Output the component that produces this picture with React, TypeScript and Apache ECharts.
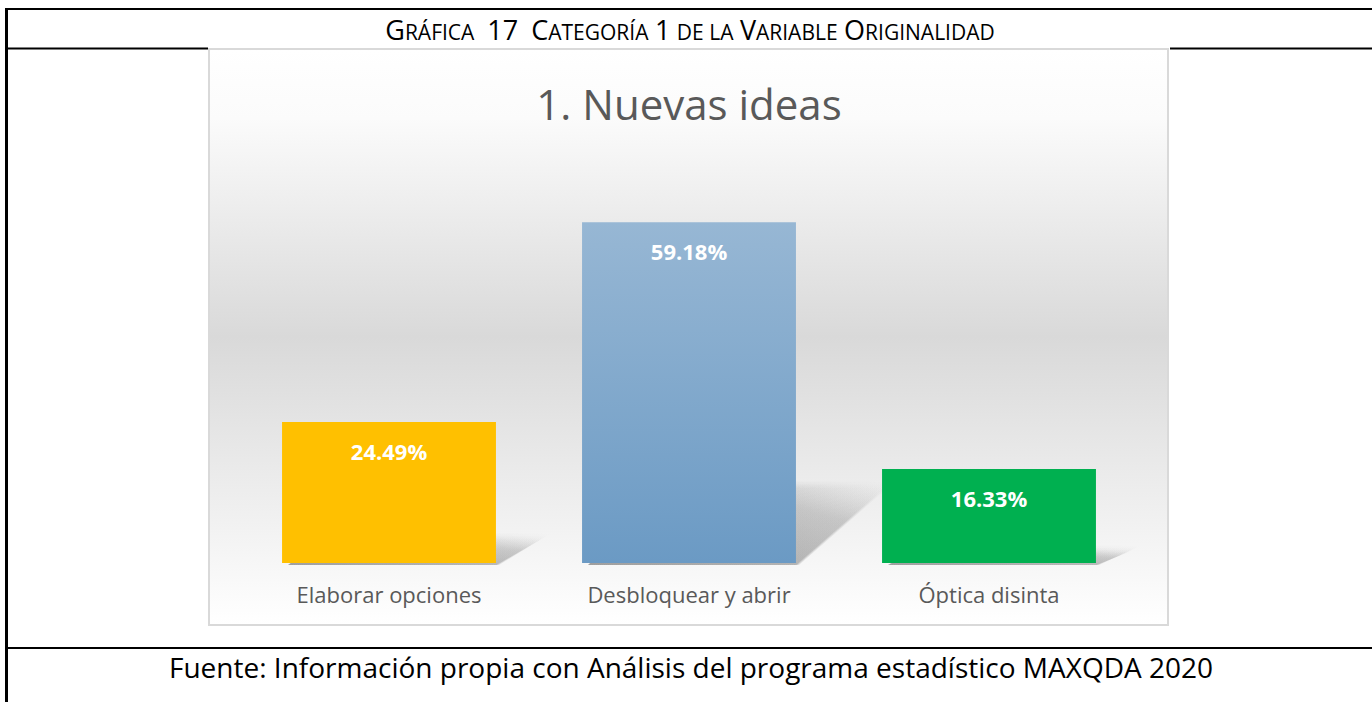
import React, { useEffect, useRef } from "react";
import * as echarts from "echarts";

const categories = ["Elaborar opciones", "Desbloquear y abrir", "Óptica disinta"];
const values = [24.49, 59.18, 16.33];
const valueLabels = ["24.49%", "59.18%", "16.33%"];
const chartTitle = "1. Nuevas ideas";
const headerText =
  "{b|G}{s|RÁFICA}  {b|17}  {b|C}{s|ATEGORÍA} {b|1} {s|DE LA} {b|V}{s|ARIABLE} {b|O}{s|RIGINALIDAD}";
const footerText = "Fuente: Información propia con Análisis del programa estadístico MAXQDA 2020";

const FONT = "'Open Sans', Lato, sans-serif";

const barColors = [
  "#FFC000",
  {
    type: "linear",
    x: 0, y: 0, x2: 0, y2: 1,
    colorStops: [
      { offset: 0, color: "#97B7D4" },
      { offset: 1, color: "#6B9AC4" },
    ],
  },
  "#00B050",
];

export default function App() {
  const ref = useRef<HTMLDivElement>(null);
  useEffect(() => {
    if (!ref.current) return;
    const chart = echarts.init(ref.current, undefined, { renderer: "svg" });
    const BAR_RATIO = 0.713;
    chart.setOption({
      animation: false,
      backgroundColor: "#ffffff",
      grid: { left: 239, right: 233, top: 160, bottom: 139, containLabel: false },
      xAxis: {
        type: "category",
        data: categories,
        axisLine: { show: false },
        axisTick: { show: false },
        axisLabel: { color: "#595959", fontSize: 22, fontFamily: FONT, margin: 20 },
      },
      yAxis: { type: "value", min: 0, max: 70, show: false, splitLine: { show: false } },
      series: [
        {
          type: "custom",
          z: 1,
          silent: true,
          data: values.map((v, i) => [i, v]),
          renderItem: (params: any, api: any) => {
            const idx = api.value(0);
            const v = api.value(1);
            const base = api.coord([idx, 0]);
            const top = api.coord([idx, v]);
            const bw = api.size([1, 0])[0] * BAR_RATIO;
            const h = base[1] - top[1];
            const x0 = base[0] - bw / 2;
            const x1 = base[0] + bw / 2;
            const d = 0.22 * h + 14;
            const hh = Math.max(0.26 * h - 13, 8);
            const layers = [10, 6, 3, 0];
            return {
              type: "group",
              children: layers.map((e) => ({
                type: "polygon",
                shape: {
                  points: [
                    [x0 + 6, base[1] + 2],
                    [x1 + e * 0.3, base[1] + 2],
                    [x1 + d + e, base[1] - hh - e * 0.6],
                    [x0 + d, base[1] - hh - e * 0.6],
                  ],
                },
                style: {
                  fill: {
                    type: "linear",
                    x: 0, y: 1, x2: 1, y2: 0,
                    colorStops: [
                      { offset: 0, color: "rgba(70,70,70,0.16)" },
                      { offset: 0.7, color: "rgba(90,90,90,0.08)" },
                      { offset: 1, color: "rgba(140,140,140,0.0)" },
                    ],
                  },
                },
              })),
            };
          },
        },
        {
          type: "bar",
          z: 3,
          barWidth: `${BAR_RATIO * 100}%`,
          data: values.map((v, i) => ({ value: v, itemStyle: { color: barColors[i] } })),
          label: {
            show: true,
            position: "insideTop",
            distance: 18,
            color: "#ffffff",
            fontWeight: "bold",
            fontSize: 22,
            fontFamily: FONT,
            formatter: (p: any) => valueLabels[p.dataIndex],
          },
        },
      ],
      graphic: [
        {
          type: "rect",
          z: -10,
          shape: { x: 209, y: 49, width: 959, height: 576 },
          style: {
            fill: {
              type: "linear",
              x: 0, y: 0, x2: 0, y2: 1,
              colorStops: [
                { offset: 0, color: "#ffffff" },
                { offset: 0.12, color: "#fbfbfb" },
                { offset: 0.5, color: "#d9d9d9" },
                { offset: 0.86, color: "#f4f4f4" },
                { offset: 1, color: "#ffffff" },
              ],
            },
            stroke: "#d9d9d9",
            lineWidth: 2,
          },
        },
        { type: "line", z: 10, shape: { x1: 5, y1: 9, x2: 1372, y2: 9 }, style: { stroke: "#000", lineWidth: 2 } },
        { type: "line", z: 10, shape: { x1: 6.5, y1: 8, x2: 6.5, y2: 702 }, style: { stroke: "#000", lineWidth: 3 } },
        { type: "line", z: 10, shape: { x1: 5, y1: 48.5, x2: 208, y2: 48.5 }, style: { stroke: "#000", lineWidth: 2 } },
        { type: "line", z: 10, shape: { x1: 1170, y1: 48.5, x2: 1372, y2: 48.5 }, style: { stroke: "#000", lineWidth: 2 } },
        { type: "line", z: 10, shape: { x1: 5, y1: 648, x2: 1372, y2: 648 }, style: { stroke: "#000", lineWidth: 2 } },
        {
          type: "text",
          z: 10,
          x: 690,
          y: 29,
          style: {
            text: headerText,
            align: "center",
            verticalAlign: "middle",
            fontSize: 25,
            fontFamily: FONT,
            fill: "#000",
            rich: {
              b: { fontSize: 27, fontFamily: FONT, fill: "#000", lineHeight: 27, verticalAlign: "bottom" },
              s: { fontSize: 21, fontFamily: FONT, fill: "#000", lineHeight: 27, verticalAlign: "bottom" },
            },
          },
        },
        {
          type: "text",
          z: 10,
          x: 689,
          y: 103,
          style: {
            text: chartTitle,
            align: "center",
            verticalAlign: "middle",
            fontSize: 42,
            fontFamily: FONT,
            fill: "#595959",
          },
        },
        {
          type: "text",
          z: 10,
          x: 691,
          y: 667,
          style: {
            text: footerText,
            align: "center",
            verticalAlign: "middle",
            fontSize: 28,
            fontFamily: FONT,
            fill: "#000",
          },
        },
      ],
    });
    return () => chart.dispose();
  }, []);
  return (
    <div
      ref={ref}
      style={{ position: "absolute", left: 0, top: 0, width: 1372, height: 702 }}
    />
  );
}
